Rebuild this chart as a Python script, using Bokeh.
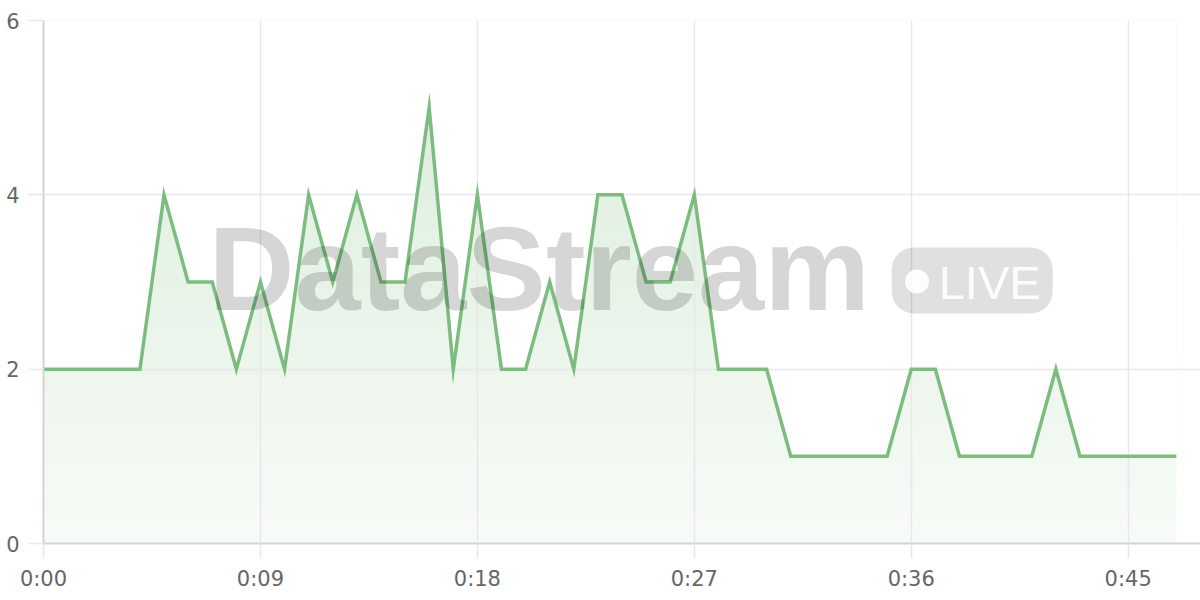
import numpy as np
from bokeh.plotting import figure
from bokeh.models import FixedTicker, BoxAnnotation, Range1d
from bokeh.embed import file_html
from bokeh.resources import INLINE

# ---- data ----
seconds = list(range(48))
values = [2, 2, 2, 2, 2, 4, 3, 3, 2, 3, 2, 4, 3, 4, 3, 3, 5, 2, 4, 2,
          2, 3, 2, 4, 4, 3, 3, 4, 2, 2, 2, 1, 1, 1, 1, 1, 2, 2, 1, 1,
          1, 1, 2, 1, 1, 1, 1, 1]
x_ticks = [0, 9, 18, 27, 36, 45]
x_tick_labels = ["0:00", "0:09", "0:18", "0:27", "0:36", "0:45"]
y_ticks = [0, 2, 4, 6]
watermark_title = "DataStream"
watermark_badge = "LIVE"

LINE = "#7cbd7f"
TICK_FONT = "DejaVu Sans"
WM_FONT = "Liberation Sans"

p = figure(width=1200, height=600, output_backend="svg", toolbar_location=None,
           x_range=Range1d(0, 48), y_range=Range1d(0, 6),
           min_border_left=43, min_border_right=0, min_border_top=20, min_border_bottom=57)
p.outline_line_color = None
p.background_fill_color = "white"

# gradient fill under the curve: vertical gradient image, masked above the line
nrows = 400
alpha = 0.06 + 0.04 * np.linspace(0, 6, nrows)
img = np.zeros((nrows, 1), dtype=np.uint32)
view = img.view(dtype=np.uint8).reshape((nrows, 1, 4))
view[:, 0, 0] = 124
view[:, 0, 1] = 189
view[:, 0, 2] = 127
view[:, 0, 3] = (alpha * 255).astype(np.uint8)
p.image_rgba(image=[img], x=0, y=0, dw=seconds[-1], dh=6, level="image")
p.varea(x=seconds, y1=values, y2=[6] * len(values), fill_color="white", fill_alpha=1.0, level="image")

p.line(seconds, values, line_color=LINE, line_width=3.5, line_join="miter")

# axes & grid
for ax in (p.xaxis, p.yaxis):
    ax.axis_line_color = "#d4d4d4"
    ax.axis_line_width = 2
    ax.major_tick_line_color = "#e8e8e8"
    ax.major_tick_line_width = 1.5
    ax.major_tick_out = 15
    ax.major_tick_in = 0
    ax.minor_tick_line_color = None
    ax.major_label_text_color = "#666666"
    ax.major_label_text_font = TICK_FONT
    ax.major_label_text_font_size = "21px"
p.xaxis.ticker = FixedTicker(ticks=x_ticks)
p.xaxis.major_label_overrides = {t: l for t, l in zip(x_ticks, x_tick_labels)}
p.xaxis.major_label_standoff = 8
p.yaxis.ticker = FixedTicker(ticks=y_ticks)
p.yaxis.major_label_standoff = 9
p.grid.grid_line_color = "#e8e8e8"
p.grid.grid_line_width = 1.5

# watermark
p.text(x=[6.85], y=[3.15], text=[watermark_title], text_font={"value": WM_FONT},
       text_font_style="bold", text_font_size="119px", text_color="black", text_alpha=0.16,
       text_baseline="alphabetic", text_align="left", level="overlay")
p.add_layout(BoxAnnotation(left=35.19, right=41.87, bottom=2.639, top=3.396, border_radius=22,
                           fill_color="black", fill_alpha=0.12, line_alpha=0, level="annotation"))
p.scatter(x=[36.24], y=[3.006], size=24, marker="circle", fill_color="white", fill_alpha=0.92,
          line_alpha=0, level="overlay")
p.text(x=[37.14], y=[2.99], text=[watermark_badge], text_font={"value": WM_FONT},
       text_font_size="47px", text_color="white", text_alpha=0.92,
       text_baseline="alphabetic", text_align="left", level="overlay")

open("out.html", "w").write(file_html(p, INLINE))
